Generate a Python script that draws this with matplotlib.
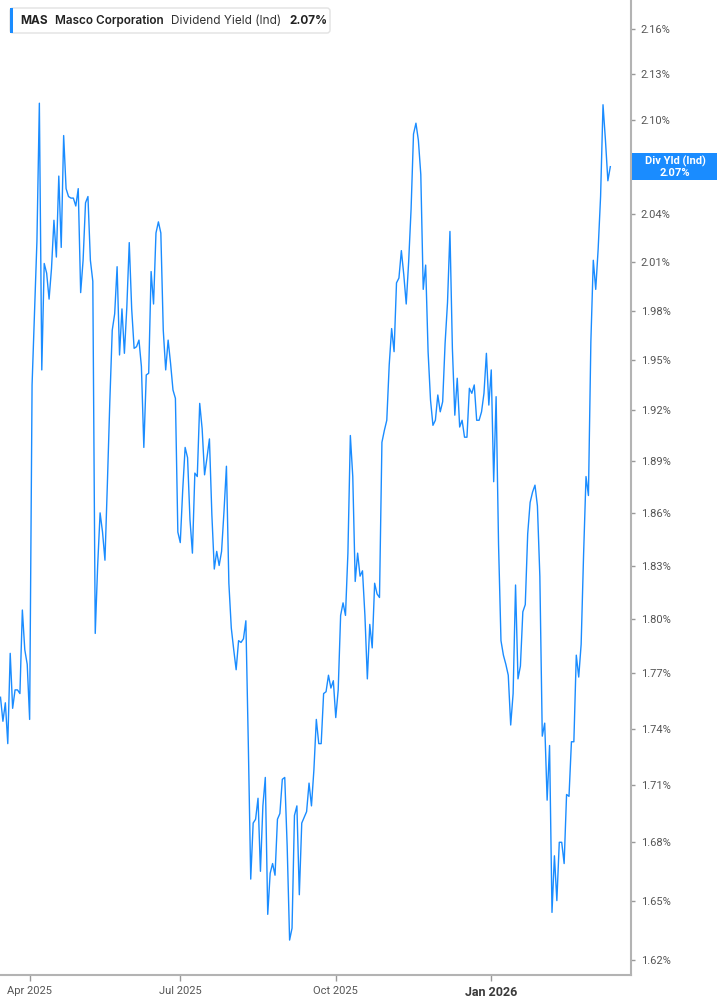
import matplotlib
matplotlib.use("Agg")
import matplotlib.pyplot as plt
from matplotlib.patches import FancyBboxPatch, Rectangle
from matplotlib.transforms import IdentityTransform
from matplotlib.ticker import FixedLocator, FixedFormatter, NullLocator
import numpy as np
import pandas as pd

ticker = "MAS"
company = "Masco Corporation"
metric = "Dividend Yield (Ind)"
tag_title = "Div Yld (Ind)"

# daily dividend yield (%), mid Mar 2025 -> mid Mar 2026
yld_spring = [1.757, 1.744, 1.754, 1.732, 1.781, 1.751, 1.761, 1.761, 1.759, 1.805,
              1.783, 1.775, 1.745, 1.935, 1.979, 2.023, 2.111, 1.944, 2.009, 2.003,
              1.987, 2.006, 2.036, 2.013, 2.064, 2.019, 2.090, 2.056, 2.051, 2.050,
              2.050, 2.045, 2.056, 1.991, 2.011, 2.047, 2.051, 2.011, 1.998, 1.792,
              1.830, 1.860, 1.849, 1.833, 1.877, 1.925, 1.968, 1.978, 2.007, 1.953,
              1.981, 1.954, 1.982, 2.022, 1.981, 1.957, 1.958, 1.962, 1.946, 1.898,
              1.941, 1.942, 2.004, 1.984, 2.028, 2.035, 2.028, 1.968, 1.944, 1.962,
              1.948, 1.932, 1.927, 1.849, 1.843, 1.873, 1.898, 1.892, 1.856, 1.837,
              1.883, 1.881, 1.924, 1.909, 1.882, 1.892, 1.903]
yld_summer = [1.859, 1.828, 1.838, 1.830, 1.838, 1.861, 1.887, 1.820, 1.795, 1.783,
              1.772, 1.788, 1.787, 1.789, 1.799, 1.732, 1.661, 1.690, 1.692, 1.703,
              1.665, 1.699, 1.714, 1.643, 1.664, 1.669, 1.663, 1.692, 1.695, 1.713,
              1.714, 1.678, 1.630, 1.636, 1.694, 1.699, 1.653, 1.690, 1.693, 1.696,
              1.711]
yld_fall = [1.699, 1.718, 1.745, 1.732, 1.732, 1.759, 1.760, 1.769, 1.762, 1.766,
            1.746, 1.761, 1.802, 1.809, 1.802, 1.837, 1.905, 1.881, 1.821, 1.837,
            1.824, 1.827, 1.802, 1.767, 1.797, 1.784, 1.820, 1.814, 1.812, 1.901,
            1.908, 1.914, 1.947, 1.969, 1.955, 1.997, 2.000, 2.017, 2.002, 1.984,
            2.010, 2.043, 2.091, 2.098, 2.087, 2.065]
yld_winter = [1.993, 2.008, 1.955, 1.926, 1.911, 1.914, 1.929, 1.919, 1.925, 1.960,
              1.985, 2.029, 1.957, 1.917, 1.939, 1.910, 1.914, 1.904, 1.904, 1.933,
              1.930, 1.935, 1.914, 1.914, 1.919, 1.930, 1.954, 1.923, 1.944, 1.878,
              1.928, 1.842]
yld_late = [1.788, 1.780, 1.775, 1.769, 1.742, 1.759, 1.819, 1.767, 1.774, 1.804,
            1.808, 1.848, 1.866, 1.872, 1.876, 1.864, 1.824, 1.736, 1.743, 1.702,
            1.731, 1.644, 1.673, 1.650, 1.680, 1.680, 1.669, 1.705, 1.704, 1.733,
            1.733, 1.780, 1.768, 1.786, 1.836, 1.881, 1.870, 1.961, 2.011, 1.993,
            2.018, 2.051, 2.110, 2.087, 2.061, 2.070]

holidays = ["2025-04-18", "2025-05-26", "2025-06-19", "2025-07-04", "2025-09-01",
            "2025-11-27", "2025-12-25", "2026-01-01", "2026-01-19", "2026-02-16"]

y_ticks = [1.62, 1.65, 1.68, 1.71, 1.74, 1.77, 1.80, 1.83, 1.86, 1.89,
           1.92, 1.95, 1.98, 2.01, 2.04, 2.07, 2.10, 2.13, 2.16]
x_tick_months = ["2025-04-01", "2025-07-01", "2025-10-01", "2026-01-01"]
x_tick_labels = ["Apr 2025", "Jul 2025", "Oct 2025", "Jan 2026"]

yld = np.array(yld_spring + yld_summer + yld_fall + yld_winter + yld_late)
days = pd.bdate_range("2025-03-14", periods=len(yld), freq="C", holidays=holidays)
x = np.arange(len(yld))
tick_idx = [int(np.searchsorted(days, pd.Timestamp(m))) for m in x_tick_months]

blue = "#1a8cff"
W, H = 717, 1005
plt.rcParams['font.family'] = ['Roboto', 'DejaVu Sans']

fig = plt.figure(figsize=(W / 100, H / 100), dpi=100)
ax = fig.add_axes([0, 30 / H, 631 / W, 975 / H])

ax.plot(x, yld, color=blue, lw=1.0)

ax.set_yscale('log')
ax.set_ylim(1.6125, 2.1794)
ax.yaxis.set_major_locator(FixedLocator(y_ticks))
# the 2.07% label sits under the last-value tag, so leave it blank
ylabels = ["" if abs(v - 2.07) < 1e-9 else f"{v:.2f}%" for v in y_ticks]
ax.yaxis.set_major_formatter(FixedFormatter(ylabels))
ax.yaxis.set_minor_locator(NullLocator())
ax.yaxis.tick_right()

ppx = 0.4116  # index units per pixel
left = -0.2
ax.set_xlim(left, left + 631 * ppx)
ax.set_xticks(tick_idx)
ax.set_xticklabels(x_tick_labels)

for s in ['top', 'left']:
    ax.spines[s].set_visible(False)
for s in ['right', 'bottom']:
    ax.spines[s].set_color('#b3b3b3')
    ax.spines[s].set_linewidth(1.5)

ax.tick_params(axis='y', direction='out', length=3, width=1, color='#999999',
               labelcolor='#555555', labelsize=8, pad=4)
ax.tick_params(axis='x', direction='out', length=4, width=1, color='#999999',
               labelcolor='#555555', labelsize=8, pad=4)
jan = ax.get_xticklabels()[-1]
jan.set_fontweight('bold')
jan.set_fontsize(9)
jan.set_color('#3a3a3a')

px = IdentityTransform()

# header box
fig.patches.append(FancyBboxPatch((10, H - 33), 320, 25,
                                  boxstyle="round,pad=0,rounding_size=3",
                                  transform=px, facecolor='white',
                                  edgecolor='#e2e2e2', lw=1, zorder=5))
fig.patches.append(Rectangle((10, H - 33), 3, 25, transform=px,
                             facecolor=blue, edgecolor='none', zorder=6))
hy = H - 20.5
header = [(ticker, 'bold', '#222222'), (company, 'semibold', '#222222'),
          (metric, 'normal', '#333333'), (f"{yld[-1]:.2f}%", 'bold', '#222222')]
renderer = fig.canvas.get_renderer()
hx = 20
for txt, wt, col in header:
    t = fig.text(hx, hy, txt, transform=px, family=['Inter', 'DejaVu Sans'],
                 fontsize=8.5, fontweight=wt, color=col, va='center', zorder=7)
    hx = t.get_window_extent(renderer).x1 + 7.5

# last value tag on the right axis
y_disp = ax.transData.transform((x[-1], yld[-1]))[1]
fig.patches.append(Rectangle((632, y_disp - 13.5), 85, 27, transform=px,
                             facecolor=blue, edgecolor='none', zorder=5))
fig.text(675, y_disp + 5.5, tag_title, transform=px, fontsize=8,
         fontweight='bold', color='white', ha='center', va='center', zorder=7)
fig.text(675, y_disp - 6.5, f"{yld[-1]:.2f}%", transform=px, fontsize=8,
         fontweight='bold', color='white', ha='center', va='center', zorder=7)

fig.savefig("out.png", dpi=100)
